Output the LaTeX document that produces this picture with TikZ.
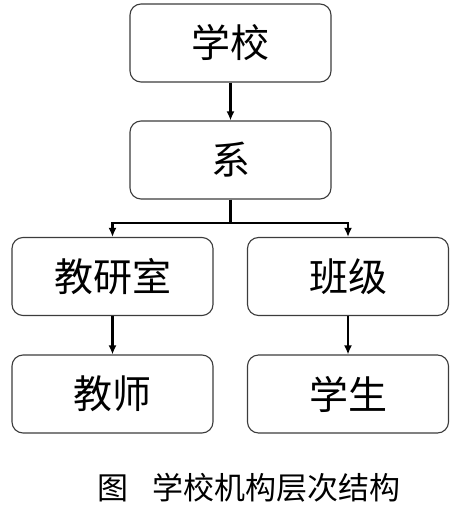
\documentclass[tikz,border=0pt]{standalone}
\usepackage{fontspec}
\usepackage{tikz}
\usetikzlibrary{arrows.meta, positioning}
\newfontfamily\cjk{Noto Sans CJK SC}
\definecolor{cBorder}{RGB}{60,60,60}

\begin{document}
\begin{tikzpicture}[x=1pt, y=-1pt,
		unit/.style={draw=cBorder, line width=1.1pt, rounded corners=11pt, fill=white,
			minimum width=201pt, minimum height=78pt, inner sep=0pt,
			font=\cjk\fontsize{39}{44}\selectfont},
		link/.style={line width=2.4pt, -{Latex[length=9pt, width=8pt]}}]
				\useasboundingbox (0,0) rectangle (458,519);
				% boxes
				\node[unit] (school) at (230.5,43) {学校};
				\node[unit] (dept) at (230.5,160) {系};
				\node[unit] (office) at (112.5,276.5) {教研室};
				\node[unit] (class) at (348,276.5) {班级};
				\node[unit] (teacher) at (112.5,394) {教师};
				\node[unit] (student) at (348,394) {学生};
				\coordinate (fork) at (230.5,223);
				% links
				\draw[link] (school) -- (dept);
				\draw[line width=2.4pt] (dept) -- (fork);
				\draw[link] (fork) -| (office);
				\draw[link] (fork) -| (class);
				\draw[link] (office) -- (teacher);
				\draw[link] (class) -- (student);
				\node[font=\cjk\fontsize{31}{36}\selectfont] (caption) at (249,488) {图\hspace{0.75em}学校机构层次结构};
			\end{tikzpicture}
\end{document}
